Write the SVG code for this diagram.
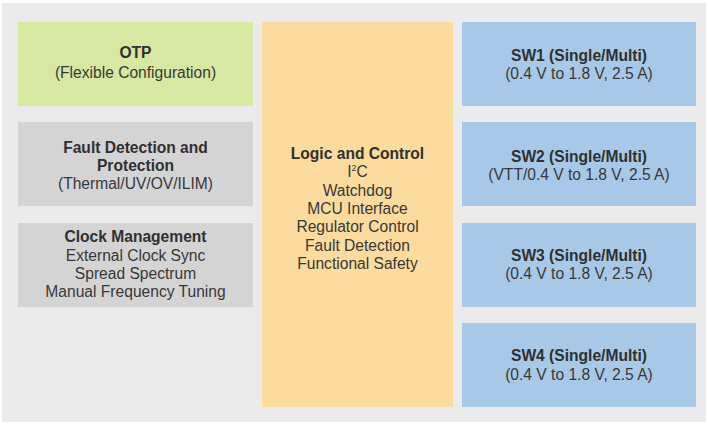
<svg xmlns="http://www.w3.org/2000/svg" width="708" height="425" viewBox="0 0 708 425">
<style>
text{font-family:"Liberation Sans",Arial,sans-serif;font-size:15.6px;fill:#383838;text-anchor:middle}
.b{font-weight:bold;fill:#303030}
.green{fill:#d6e8a2}
.gray{fill:#d4d4d4}
.orange{fill:#fbdc9e}
.blue{fill:#a8c8e8}
</style>
<rect x="0" y="0" width="708" height="425" fill="#ffffff"/>
<rect x="2" y="3" width="704" height="419" fill="#ebebeb"/>
<g id="otp">
<rect class="green" x="18" y="22" width="235" height="84"/>
<text class="b" x="135.5" y="58">OTP</text>
<text x="135.5" y="78">(Flexible Configuration)</text>
</g>
<g id="fault">
<rect class="gray" x="18" y="122" width="235" height="84"/>
<text class="b" x="135.5" y="153">Fault Detection and</text>
<text class="b" x="135.5" y="171">Protection</text>
<text x="135.5" y="189">(Thermal/UV/OV/ILIM)</text>
</g>
<g id="clock">
<rect class="gray" x="18" y="223" width="235" height="84"/>
<text class="b" x="135.5" y="242">Clock Management</text>
<text x="135.5" y="261">External Clock Sync</text>
<text x="135.5" y="279">Spread Spectrum</text>
<text x="135.5" y="297">Manual Frequency Tuning</text>
</g>
<g id="logic">
<rect class="orange" x="262" y="22" width="191" height="385"/>
<text class="b" x="357.5" y="159">Logic and Control</text>
<text x="357.5" y="177">I<tspan font-size="9" dy="-6">2</tspan><tspan dy="6">C</tspan></text>
<text x="357.5" y="196">Watchdog</text>
<text x="357.5" y="214">MCU Interface</text>
<text x="357.5" y="232">Regulator Control</text>
<text x="357.5" y="251">Fault Detection</text>
<text x="357.5" y="269">Functional Safety</text>
</g>
<g id="sw1">
<rect class="blue" x="462" y="22" width="234" height="84"/>
<text class="b" x="579" y="61">SW1 (Single/Multi)</text>
<text x="579" y="79">(0.4 V to 1.8 V, 2.5 A)</text>
</g>
<g id="sw2">
<rect class="blue" x="462" y="122" width="234" height="84"/>
<text class="b" x="579" y="162">SW2 (Single/Multi)</text>
<text x="579" y="180">(VTT/0.4 V to 1.8 V, 2.5 A)</text>
</g>
<g id="sw3">
<rect class="blue" x="462" y="223" width="234" height="84"/>
<text class="b" x="579" y="261">SW3 (Single/Multi)</text>
<text x="579" y="279">(0.4 V to 1.8 V, 2.5 A)</text>
</g>
<g id="sw4">
<rect class="blue" x="462" y="323" width="234" height="84"/>
<text class="b" x="579" y="361">SW4 (Single/Multi)</text>
<text x="579" y="380">(0.4 V to 1.8 V, 2.5 A)</text>
</g>
<g id="connectors"></g>
</svg>
